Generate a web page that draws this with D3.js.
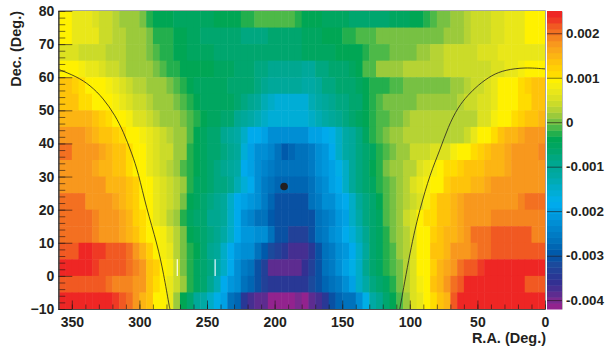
<!DOCTYPE html>
<html>
<head>
<meta charset="utf-8">
<style>
	html, body { margin: 0; padding: 0; background: #fff; }
	text { font-family: "Liberation Sans", Arial, sans-serif; font-weight: bold; fill: #231f20; }
</style>
<script src="https://cdn.jsdelivr.net/npm/d3@7"></script>
</head>
<body>
<div id="root"></div>
<script>
const C = {
	width: 609,
	height: 348,
	left: 58.3,
	right: 545,
	top: 11,
	bottom: 309,
	barLeft: 547,
	barRight: 562,
	raStep: 5,
	decStep: 5,
}

// amplitude per R.A. bin, in units of 1e-4, R.A. 360 -> 0, one array per Dec. band (named by lower edge)
const dec75 = [9.5,9,7.5,7.5,7,6,4.5,4.5,3,2,1,1,0,-2,-3.5,-4,-4,-5,-5,-5,-5,-5,-5,-4,-4,-3.5,-3.5,-2,-2,-1,-1,-1,-1,-1,-1.5,-2,-3.5,-4,-4,-4.5,-5,-5,-5,-6,-7,-7,-7,-7,-6,-5,-5,-5,-4,-4,-2.5,-1,0.5,0.5,1,2,3,4.5,4.5,4.5,5.5,6,7,7,7.5,9.5,9.5,9.5]
const dec70 = [9,9,7.5,7.5,6.5,6.5,4.5,4.5,3.5,3.5,2,1,1,0,-2,-2,-3,-4,-4,-5,-5,-6,-7,-7,-7,-7,-7,-8,-8,-8,-8,-7,-6,-6,-6,-6,-5,-5,-5,-4,-4,-4,-3,-2,-1.5,-1,-0.5,0.5,0.5,0.5,0.5,0.5,0.5,0.5,0.5,0.5,0.5,1,1,2,3,4.5,4.5,4.5,5,6,7,7.5,7.5,9,9,9]
const dec65 = [5,5,5,4.5,4,4,4,3.5,3,2.5,2,1,1,0.5,-0.5,-2,-3,-4,-4,-5,-5,-5,-5.5,-6,-6,-6,-6,-6,-6,-6,-6,-6,-6,-6,-6,-6,-5,-4.5,-4.5,-4.5,-4.5,-4,-3.5,-3.5,-3.5,-2,-1.5,-1,-0.5,0.5,0.5,0.5,0.5,1.5,2,3,3,4.5,4.5,4.5,4.5,4.5,5.5,5.5,5.5,7,7,7,7,7,7,7]
const dec60 = [9.5,9.5,9,8,7,6.5,5,4.5,4,3,2,1,1,1,0,-1,-2,-3,-4,-4,-4,-4,-4,-5,-5,-5.5,-6,-6,-7,-8,-8,-9,-9,-9,-9,-9,-10,-10,-8,-7.5,-7,-6.5,-6,-4.5,-4,-1.5,-0.5,1,1,1.5,1.5,3,3,3,3,3,3.5,4,4.5,4.5,4.5,4.5,4.5,4.5,5,6,7,7,8,9,9,9]
const dec55 = [13,13,12,11,10,9.5,9.5,8,6.5,5,4.5,3.5,2.5,1.5,1,1,0,-1,-2,-3.5,-4.5,-4.5,-5,-5,-5.5,-6,-6,-7,-7,-8,-9,-10,-10,-10,-10,-10,-12,-12,-11,-8.5,-8,-7,-6,-6,-5,-4,-3,-2,-2,-1,-0.5,0.5,0.5,0.5,0.5,0.5,0.5,0.5,1.5,2,3.5,4.5,4.5,5,6.5,9,9.5,10,11,12,13,13]
const dec50 = [13.5,13.5,13,11,10.5,9.5,9.5,9,8,7,5,4.5,4,3,2,1,1,0,-1,-2,-3.5,-4.5,-4.5,-4.5,-5,-5.5,-7,-8,-9,-11,-13,-15,-16,-16,-16,-16,-16,-13,-12,-10,-9,-8,-7.5,-7,-6,-3.5,-2.5,-1,0.5,0.5,0.5,0.5,0.5,1,1,1,1,1,2,3,4,4.5,5,6,7.5,9,9.5,9.5,11,11,13,13]
const dec45 = [15,15,15,15,15,14,12,10.5,9.5,9.5,8,6,5,4.5,3,2,1,1,0,-1.5,-3,-4,-4.5,-5,-6,-7,-9,-10,-12,-13,-14,-16,-16,-16,-16,-16,-16,-14,-13,-12,-11,-9,-8,-7,-5.5,-4,-2,-1,-0.5,0,0.5,1,2.5,2.5,2.5,2.5,2.5,2.5,3,3.5,3.5,3.5,5,6,8,9.5,10,11,12,13,14,15]
const dec40 = [18,18,18,17,16.5,15,14,13.5,12.5,10.5,9.5,9,8,6.5,5,4,3,1.5,1,-1.5,-4,-5,-6,-7,-9,-10,-12,-15,-18,-19,-20,-22,-23,-23,-23,-23,-22,-20,-19.5,-19,-17,-14,-12,-10,-8,-5.5,-3,-1.5,0,1,1,2.5,3,3,3,3,3,3,3,3,4.5,7,9.5,9.5,11,13,14.5,15,16,17,18,18]
const dec35 = [20,20,18,18,18,18,16.5,15.5,14,13,11,10,9,7.5,6,4.5,4.5,2,1,-2,-4,-5,-6,-7,-8,-9.5,-10,-16,-20,-22,-23,-24,-26,-29,-28,-26,-26,-25,-23,-21,-19,-15,-12,-10,-8,-6,-4.5,-3,-0.5,0.5,1,2,4,4,4,5,5,6,8,9.5,9.5,10.5,12.5,14,14.5,15,16,17,18,18,18,19]
const dec30 = [18,18,18,18,18,16,15,14.5,14,13,11,10,9,7.5,6,4.5,3,2,-1,-3,-4,-5.5,-6.5,-7.5,-9,-10,-12,-18,-20,-23,-24,-25,-27,-27,-27,-27,-27,-25,-23,-21,-20,-17,-14,-11,-8,-6,-4,-2,0,1,2,2.5,3.5,5,7,8.5,9.5,11,11.5,12.5,13.5,14,14,14.5,15,15.5,16,17,17,17,17,17]
const dec25 = [18,18,18,18,18,18,17,15,14.5,14.5,14,12,10,9,7.5,5.5,4,3,1,-3,-5,-5.5,-7,-8,-8.5,-9,-13,-16,-19,-22,-25,-27,-28,-28,-28,-28,-28,-26,-24,-22,-20,-18,-14,-11,-8.5,-7,-5,-2,-1,0.5,1.5,3,5,6.5,8,9.5,9.5,12,13.5,14,14,15,15,16,17,18,18,18,18,18,18,18]
const dec20 = [20.5,20.5,20.5,20,18,18,17,17,16,15,14,12,9.5,9,7,5,4,3,0,-4,-5,-7,-8,-9,-10,-14,-19,-20,-21,-22,-25,-28,-30,-30,-30,-30,-30,-27,-25,-23,-22,-20,-19,-15,-11,-8,-6,-4,-1,0,1,2.5,4,6,8,11,13,14,15,16,17,17,17,17,17,18,18,18,19,20,20,20]
const dec15 = [20.5,20.5,20.5,20.5,20.5,19,18,17,17,16,15,12.5,11,9.5,7,5,3.5,1,-2,-5,-6,-7,-9,-9,-11,-15,-19,-22,-24,-26,-27,-29,-31,-31,-31,-31,-31,-30,-27,-25,-24,-21,-20,-15,-12,-8,-7,-5,-1,0.5,1.5,4,6,9,10.5,11,13,14,15,16,17.5,17.5,17.5,17.5,19,19,19,19,19,19,19,19]
const dec10 = [20,20,20,20,20,19,18,17,17,16,15,13,11,9.5,9,8,6,3,0,-3.5,-4.5,-6,-8,-9.5,-12,-14,-19,-21,-21,-22,-23,-27,-30,-31,-33,-33,-33,-30,-27,-25,-22,-21,-19,-16,-13,-9,-7,-5,-2,0,1,3,5,9,10,12,14,15,15,16,18,20,20,20,21,21.5,21.5,21.5,21.5,21.5,19,19]
const dec5 = [22,22,22,24,24,22.5,22.5,22,21.5,21.5,20,18,15,12,9.5,8,7,3,0,-2,-4,-7,-9,-10,-15,-19,-21,-22,-23,-26,-29,-32,-33,-34,-37,-37,-37,-34,-30,-27,-25,-22,-21,-18,-15,-10,-7,-5,-3,-0.5,1,3,6,9,10,13,14,15,17,18,18,19,20.5,20.5,21,21.5,21.5,21.5,21.5,21.5,21.5,22]
const dec0 = [24,24,24,24,24,22.5,22,22,21,21,20,19,17,14,12,9.5,8,4,0,-2,-5,-6,-8,-12,-15,-19,-22,-25,-26,-30,-33,-38,-38,-38,-38,-38,-36,-33,-30,-27,-25,-22,-20,-17,-14,-9,-7,-5,-3,-1,0.5,3,6,9,9.5,12,14.5,16,18,20,22,22,23.5,24,24,24,24,24,24,24,24,24]
const decM5 = [21.5,21.5,21.5,21.5,21.5,21.5,21.5,20,19.5,19,19,17,17,14,11,9,7,4,1,-2,-5,-7,-9,-13,-18,-21,-23,-26,-28,-31,-33,-34,-35,-35,-35,-35,-35,-32,-30,-28,-26,-25,-22,-20,-15,-12,-8,-7,-5,-3,0,3,5,8,9.5,13,15,18,20,22,24,24,24,24,24,24,24,24,24,22,21,21]
const decM10 = [24,24,24,24,24,24,24,24,23,21.5,20,17,15,13,10,9,7,1,-4,-7,-10,-12,-15,-17,-20,-26,-28,-34,-37,-38,-39,-41,-42,-42,-41,-40,-41,-39,-37,-34,-31,-28,-27,-26,-22,-17,-12,-9,-6,-4,-1,2,5,7,9.5,11,13,15,21,24,24,24,24,24,24,24,24,24,24,24,24,24]

const decBands = [75, 70, 65, 60, 55, 50, 45, 40, 35, 30, 25, 20, 15, 10, 5, 0, -5, -10]
const bandValues = [dec75, dec70, dec65, dec60, dec55, dec50, dec45, dec40, dec35, dec30, dec25, dec20, dec15, dec10, dec5, dec0, decM5, decM10]

// empty bins, R.A. of the thin white slits in the 0..5 band
const gapRa = [272, 244]

// the black boundary line, left and right branch
const leftRa = [360, 346.4, 336.5, 326.6, 318, 311.8, 305.6, 300.7, 295, 286.8, 282, 277.8, 277.4]
const leftDec = [62.4, 60.2, 57.6, 53.6, 48.5, 43.5, 37, 31, 20.7, 9.6, 0.5, -9.5, -10]
const rightRa = [107.4, 98.4, 92.5, 85, 77.7, 71.7, 64.3, 57, 49.6, 39.2, 29.6, 14.8, 0]
const rightDec = [-10, 10.4, 20.2, 30.8, 38, 45, 51, 54.6, 57.6, 60.7, 62.2, 63, 62.5]

// the source marker
const sourceRa = [193]
const sourceDec = [27]

const paletteStops = [-42, -40, -37.8, -35.6, -32, -30, -26.6, -21.5, -18, -15, -12, -8.8, -6.2, -3.5, -1.8, 0, 0.9, 2.7, 5, 7.4, 9.5, 10.8, 12.8, 15.5, 18, 20.3, 21.6, 23, 25]
const paletteColors = ['#9e1f8e', '#7a2a8f', '#4b2e91', '#2e3192', '#1c4a9c', '#0054a6', '#0072bc', '#0095da', '#00aeef', '#00adcc', '#00a9a5', '#00a78d', '#00a66a', '#00a651', '#39b54a', '#70bf44', '#8dc63f', '#b3d235', '#d7df23', '#eee917', '#fff200', '#ffdd00', '#ffcb05', '#fbb017', '#f7941e', '#f37021', '#f15a22', '#ef3a24', '#ed1c24']
const paletteLevels = 50

const xTicks = [350, 300, 250, 200, 150, 100, 50, 0]
const yTicks = [-10, 0, 10, 20, 30, 40, 50, 60, 70, 80]
const barTicks = [-40, -30, -20, -10, 0, 10, 20]

const svg = d3.select('#root').append('svg')
	.attr('width', C.width)
	.attr('height', C.height)
	.style('display', 'block')

const xScale = d3.scaleLinear().domain([360, 0]).range([C.left, C.right])
const yScale = d3.scaleLinear().domain([-10, 80]).range([C.bottom, C.top])
const barScale = d3.scaleLinear().domain([-42, 25]).range([C.bottom, C.top])

const smooth = d3.scaleLinear().domain(paletteStops).range(paletteColors)
const levels = d3.range(paletteLevels).map(i => smooth(-42 + (i + 0.5) * 67 / paletteLevels))
const color = d3.scaleQuantize().domain([-42, 25]).range(levels)

drawCells()
drawCurves()
drawAxes()
drawColorBar()

function drawCells() {
	const cells = []
	bandValues.forEach((vals, i) => {
		vals.forEach((v, j) => {
			cells.push({ ra: 360 - j * C.raStep, dec: decBands[i], v: v })
		})
	})

	svg.append('g')
		.selectAll('rect')
		.data(cells)
		.enter()
		.append('rect')
		.attr('x', d => xScale(d.ra))
		.attr('y', d => yScale(d.dec + C.decStep))
		.attr('width', d => xScale(d.ra - C.raStep) - xScale(d.ra) + 0.5)
		.attr('height', d => yScale(d.dec) - yScale(d.dec + C.decStep) + 0.5)
		.attr('fill', d => color(d.v))

	svg.append('g')
		.selectAll('line')
		.data(gapRa)
		.enter()
		.append('line')
		.attr('x1', d => xScale(d))
		.attr('x2', d => xScale(d))
		.attr('y1', yScale(5))
		.attr('y2', yScale(0))
		.attr('stroke', '#fff')
		.attr('stroke-width', 1.1)
}

function drawCurves() {
	const line = d3.line()
		.x(d => xScale(d[0]))
		.y(d => yScale(d[1]))
		.curve(d3.curveBasis)

	const branches = [d3.zip(leftRa, leftDec), d3.zip(rightRa, rightDec)]

	svg.append('g')
		.selectAll('path')
		.data(branches)
		.enter()
		.append('path')
		.attr('d', line)
		.attr('fill', 'none')
		.attr('stroke', '#231f20')
		.attr('stroke-width', 0.8)

	svg.append('g')
		.selectAll('circle')
		.data(d3.zip(sourceRa, sourceDec))
		.enter()
		.append('circle')
		.attr('cx', d => xScale(d[0]))
		.attr('cy', d => yScale(d[1]))
		.attr('r', 3.8)
		.attr('fill', '#231f20')
}

function drawAxes() {
	// -- frame --
	svg.append('path')
		.attr('d', `M${C.left},${C.top - 0.5}H${C.right + 0.5}V${C.bottom}`)
		.attr('fill', 'none')
		.attr('stroke', '#a6a6a6')
		.attr('stroke-width', 1)

	// -- axis --
	const axisX = d3.axisBottom(xScale)
		.tickValues(xTicks)
		.tickSizeInner(-8.5)
		.tickSizeOuter(0)
		.tickPadding(8)
		.tickFormat(d3.format('d'))
	const minorX = d3.axisBottom(xScale)
		.tickValues(d3.range(0, 361, 10))
		.tickSizeInner(-4.5)
		.tickSizeOuter(0)
		.tickFormat('')
	const axisY = d3.axisLeft(yScale)
		.tickValues(yTicks)
		.tickSizeInner(-14)
		.tickSizeOuter(0)
		.tickPadding(4)
		.tickFormat(d3.format('d'))
	const minorY = d3.axisLeft(yScale)
		.tickValues(d3.range(-10, 81, 2))
		.tickSizeInner(-7)
		.tickSizeOuter(0)
		.tickFormat('')

	const gx = svg.append('g').attr('transform', `translate(0,${C.bottom})`)
	gx.append('g').call(minorX)
	gx.append('g').call(axisX)
	const gy = svg.append('g').attr('transform', `translate(${C.left},0)`)
	gy.append('g').call(minorY)
	gy.append('g').call(axisY)

	svg.selectAll('.domain').attr('stroke', '#4d4d4d').attr('stroke-width', 1.2)
	svg.selectAll('.tick line').attr('stroke', 'rgba(30,20,20,0.6)').attr('stroke-width', 1)
	svg.selectAll('.tick text')
		.style('font-family', '"Liberation Sans", Arial, sans-serif')
		.style('font-weight', 'bold')
		.style('font-size', '14px')
		.attr('fill', '#231f20')

	svg.append('text')
		.attr('x', C.right + 1)
		.attr('y', 343)
		.attr('text-anchor', 'end')
		.style('font-size', '14.5px')
		.text('R.A. (Deg.)')

	svg.append('text')
		.attr('transform', `translate(21,${C.top}) rotate(-90)`)
		.attr('text-anchor', 'end')
		.style('font-size', '14.5px')
		.text('Dec. (Deg.)')
}

function drawColorBar() {
	const bar = svg.append('g')
	const step = 67 / paletteLevels

	bar.selectAll('rect')
		.data(levels)
		.enter()
		.append('rect')
		.attr('x', C.barLeft)
		.attr('y', (d, i) => barScale(-42 + (i + 1) * step))
		.attr('width', C.barRight - C.barLeft)
		.attr('height', barScale(0) - barScale(step) + 0.5)
		.attr('fill', d => d)

	const axisBar = d3.axisRight(barScale)
		.tickValues(barTicks)
		.tickSizeInner(-(C.barRight - C.barLeft))
		.tickSizeOuter(0)
		.tickPadding(4)
		.tickFormat(d => d === 0 ? '0' : String(d / 10000))

	const g = svg.append('g')
		.attr('transform', `translate(${C.barRight},0)`)
		.call(axisBar)

	g.select('.domain').attr('stroke', '#bdbdbd').attr('stroke-width', 1)
	g.selectAll('.tick line').attr('stroke', 'rgba(30,20,20,0.6)').attr('stroke-width', 1)
	g.selectAll('.tick text')
		.style('font-family', '"Liberation Sans", Arial, sans-serif')
		.style('font-weight', 'bold')
		.style('font-size', '13.4px')
		.attr('fill', '#231f20')
}
</script>
</body>
</html>
